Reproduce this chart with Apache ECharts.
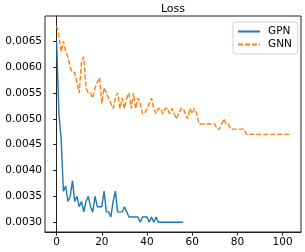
<!DOCTYPE html>
<html>
<head>
<meta charset="utf-8">
<script src="https://cdn.jsdelivr.net/npm/echarts@6/dist/echarts.min.js"></script>
<style>
html,body{margin:0;padding:0;background:#fff;}
#chart{width:305px;height:252px;}
</style>
</head>
<body>
<div id="chart"></div>
<script>
var titleText = 'Loss';
var seriesNames = ['GPN', 'GNN'];
var gpnLoss = [
  0.0065, 0.0051, 0.0046, 0.0036, 0.0037, 0.0034, 0.0035, 0.0038, 0.0034, 0.0035,
  0.0033, 0.0034, 0.0032, 0.0034, 0.0035, 0.0033, 0.0032, 0.0035, 0.0033, 0.0033,
  0.0033, 0.0036, 0.0032, 0.0032, 0.0031, 0.0034, 0.0036, 0.0032, 0.0032, 0.0032,
  0.0033, 0.0032, 0.0031, 0.0031, 0.0031, 0.0031, 0.0031, 0.0030, 0.0031, 0.0031,
  0.0031, 0.0030, 0.0031, 0.0030, 0.0031, 0.0030, 0.0030, 0.0030, 0.0030, 0.0030,
  0.0030, 0.0030, 0.0030, 0.0030, 0.0030, 0.0030, 0.0030
];
var gnnLoss = [
  0.0068, 0.0066, 0.0063, 0.0065, 0.0063, 0.0062, 0.0060, 0.0059, 0.0059, 0.0057,
  0.0055, 0.0061, 0.0062, 0.0056, 0.0055, 0.0055, 0.0054, 0.0056, 0.0057, 0.0058,
  0.0053, 0.0056, 0.0055, 0.0054, 0.0053, 0.0052, 0.0054, 0.0055, 0.0052, 0.0054,
  0.0052, 0.0054, 0.0055, 0.0052, 0.0055, 0.0052, 0.0054, 0.0053, 0.0051, 0.0051,
  0.0052, 0.0053, 0.0054, 0.0052, 0.0051, 0.0052, 0.0052, 0.0051, 0.0052, 0.0052,
  0.0051, 0.0052, 0.0051, 0.0050, 0.0051, 0.0052, 0.0052, 0.0051, 0.0050, 0.0052,
  0.0051, 0.0052, 0.0051, 0.0049, 0.0049, 0.0049, 0.0049, 0.0049, 0.0049, 0.0049,
  0.0049, 0.0048, 0.0048, 0.0049, 0.0050, 0.0049, 0.0049, 0.0048, 0.0048, 0.0048,
  0.0048, 0.0048, 0.0048, 0.0048, 0.0047, 0.0047, 0.0047, 0.0047, 0.0047, 0.0047,
  0.0047, 0.0047, 0.0047, 0.0047, 0.0047, 0.0047, 0.0047, 0.0047, 0.0047, 0.0047,
  0.0047, 0.0047, 0.0047, 0.0047
];
var xTicks = [0, 20, 40, 60, 80, 100];
var yTicks = [0.0030, 0.0035, 0.0040, 0.0045, 0.0050, 0.0055, 0.0060, 0.0065];

function toPairs(arr) { return arr.map(function (v, i) { return [i, v]; }); }

var FONT = 'DejaVu Sans';
var chart = echarts.init(document.getElementById('chart'), null, {renderer: 'canvas'});
chart.setOption({
  animation: false,
  backgroundColor: '#fff',
  graphic: [{
    type: 'text', x: 173, y: 9,
    style: {text: titleText, fontFamily: FONT, fontSize: 11, fill: '#000',
      textAlign: 'center', textVerticalAlign: 'middle'}
  }],
  legend: {
    orient: 'vertical',
    left: 233, top: 22,
    data: seriesNames,
    itemWidth: 22, itemHeight: 11, itemGap: 2,
    padding: [4, 6, 4, 4],
    borderColor: '#d0d0d0', borderWidth: 1, borderRadius: 3,
    backgroundColor: 'rgba(255,255,255,0.8)',
    itemStyle: {opacity: 0},
    textStyle: {fontFamily: FONT, fontSize: 10.5, color: '#000', padding: [0, 0, 0, 3]}
  },
  grid: {left: 45, top: 16, right: 4, bottom: 20, show: true, borderColor: '#222', borderWidth: 1, containLabel: false, outerBoundsMode: 'none'},
  xAxis: {
    type: 'value', min: -5.15, max: 108.15,
    axisLine: {show: true, lineStyle: {color: '#222', width: 1}},
    axisTick: {show: true, length: 3.5, lineStyle: {color: '#222'}, customValues: xTicks},
    axisLabel: {customValues: xTicks, fontFamily: FONT, fontSize: 10.5, color: '#000', margin: 5},
    splitLine: {show: false}
  },
  yAxis: {
    type: 'value', min: 0.00281, max: 0.00699,
    axisLine: {show: true, lineStyle: {color: '#222', width: 1}},
    axisTick: {show: true, length: 3.5, lineStyle: {color: '#222'}, customValues: yTicks},
    axisLabel: {customValues: yTicks, fontFamily: FONT, fontSize: 10.5, color: '#000', margin: 3,
      formatter: function (v) { return v.toFixed(4); }},
    splitLine: {show: false}
  },
  series: [
    {name: seriesNames[0], type: 'line', data: toPairs(gpnLoss), showSymbol: false, symbol: 'none',
      lineStyle: {color: '#1f77b4', width: 1.4}, itemStyle: {color: '#1f77b4'}},
    {name: seriesNames[1], type: 'line', data: toPairs(gnnLoss), showSymbol: false, symbol: 'none',
      lineStyle: {color: '#ff7f0e', width: 1.4, type: [5, 2]}, itemStyle: {color: '#ff7f0e'}}
  ]
});
</script>
</body>
</html>
